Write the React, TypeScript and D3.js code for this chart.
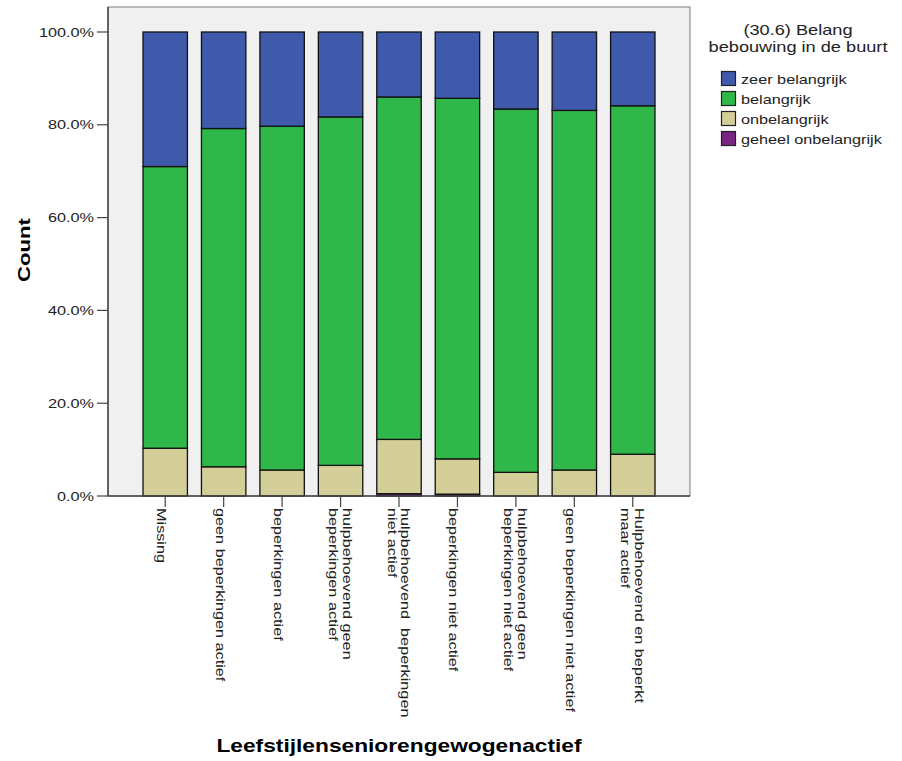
import React from "react";
import * as d3 from "d3";

const categories: string[][] = [
  ["Missing"],
  ["geen beperkingen actief"],
  ["beperkingen actief"],
  ["hulpbehoevend geen", "beperkingen actief"],
  ["hulpbehoevend  beperkingen", "niet actief"],
  ["beperkingen niet actief"],
  ["hulpbehoevend geen", "beperkingen niet actief"],
  ["geen beperkingen niet actief"],
  ["Hulpbehoevend en beperkt", "maar actief"],
];

const seriesNames = ["geheel onbelangrijk", "onbelangrijk", "belangrijk", "zeer belangrijk"];
const seriesColors = ["#7b2582", "#d4ce98", "#2fb74a", "#3f59ab"];

const geheelOnbelangrijk = [0, 0, 0, 0, 0.5, 0.4, 0, 0, 0];
const onbelangrijk = [10.3, 6.3, 5.6, 6.6, 11.7, 7.6, 5.1, 5.6, 9.0];
const belangrijk = [60.7, 72.9, 74.1, 75.1, 73.8, 77.7, 78.3, 77.5, 75.1];
const zeerBelangrijk = [29.0, 20.8, 20.3, 18.3, 14.0, 14.3, 16.6, 16.9, 15.9];

const yTicks = [0, 20, 40, 60, 80, 100];

const legendTitle = ["(30.6) Belang", "bebouwing in de buurt"];
const legendOrder = ["zeer belangrijk", "belangrijk", "onbelangrijk", "geheel onbelangrijk"];
const xTitle = "Leefstijlenseniorengewogenactief";
const yTitle = "Count";

const W = 902;
const H = 761;
const FRAME = { left: 108, right: 690, top: 7, bottom: 496 };
const SX = 1.3;
const FS = 12.5;
const FONT = "'Liberation Sans', Arial, sans-serif";

export default function App() {
  const rows = categories.map((c, i) => ({
    key: String(i),
    "geheel onbelangrijk": geheelOnbelangrijk[i],
    onbelangrijk: onbelangrijk[i],
    belangrijk: belangrijk[i],
    "zeer belangrijk": zeerBelangrijk[i],
  }));
  const stacked = d3.stack<any>().keys(seriesNames)(rows);

  const x = d3
    .scaleBand<string>()
    .domain(rows.map((r) => r.key))
    .range([FRAME.left + 28, FRAME.right - 28])
    .paddingInner(0.24)
    .paddingOuter(0.12);
  const y = d3.scaleLinear().domain([0, 100]).range([496, 32]);
  const fmt = (v: number) => d3.format(".1f")(v) + "%";
  const color = d3.scaleOrdinal<string, string>().domain(seriesNames).range(seriesColors);

  return (
    <svg width={W} height={H} style={{ display: "block", position: "absolute", left: 0, top: 0 }} fontFamily={FONT}>
      <rect x={0} y={0} width={W} height={H} fill="#ffffff" />
      <rect
        x={FRAME.left}
        y={FRAME.top}
        width={FRAME.right - FRAME.left}
        height={FRAME.bottom - FRAME.top}
        fill="#f0f0f0"
        stroke="#7a7a7a"
        strokeWidth={1}
      />
      {stacked.map((s) => (
        <g key={s.key}>
          {s.map((d, i) => {
            const h = y(d[0]) - y(d[1]);
            if (h <= 0) return null;
            return (
              <rect
                key={i}
                x={x(String(i))!}
                y={y(d[1])}
                width={x.bandwidth()}
                height={h}
                fill={color(s.key)}
                stroke="#111"
                strokeWidth={1.3}
              />
            );
          })}
        </g>
      ))}
      <line x1={FRAME.left} x2={FRAME.left} y1={FRAME.top} y2={FRAME.bottom} stroke="#444" strokeWidth={1.5} />
      <line x1={FRAME.left} x2={FRAME.right} y1={FRAME.bottom} y2={FRAME.bottom} stroke="#444" strokeWidth={1.5} />
      {yTicks.map((t) => (
        <g key={t}>
          <line x1={97} x2={FRAME.left} y1={y(t)} y2={y(t)} stroke="#444" strokeWidth={1.2} />
          <text
            transform={`translate(94,${y(t) + 4.5}) scale(${SX},1)`}
            textAnchor="end"
            fontSize={FS}
            fill="#222"
          >
            {fmt(t)}
          </text>
        </g>
      ))}
      {categories.map((lines, i) => {
        const cx = x(String(i))! + x.bandwidth() / 2;
        const n = lines.length;
        const v0 = n === 1 ? 8 : -2;
        return (
          <g key={i}>
            <line x1={cx} x2={cx} y1={FRAME.bottom} y2={507} stroke="#444" strokeWidth={1.2} />
            <g transform={`translate(${cx},508) rotate(90)`}>
              {lines.map((l, j) => (
                <text
                  key={j}
                  transform={`translate(0,${v0 + j * 13.5}) scale(${SX},1)`}
                  fontSize={FS}
                  fill="#222"
                  style={{ whiteSpace: "pre" }}
                >
                  {l}
                </text>
              ))}
            </g>
          </g>
        );
      })}
      <text
        transform={`translate(30,250) rotate(-90) scale(${SX},1)`}
        textAnchor="middle"
        fontSize={17}
        fontWeight="bold"
        fill="#000"
      >
        {yTitle}
      </text>
      <text
        transform={`translate(${(FRAME.left + FRAME.right) / 2},752) scale(${SX},1)`}
        textAnchor="middle"
        fontSize={17.5}
        fontWeight="bold"
        fill="#000"
      >
        {xTitle}
      </text>
      {legendTitle.map((t, i) => (
        <text
          key={t}
          transform={`translate(798,${35 + i * 17}) scale(${SX},1)`}
          textAnchor="middle"
          fontSize={14}
          fill="#222"
        >
          {t}
        </text>
      ))}
      {legendOrder.map((k, i) => (
        <g key={k} transform={`translate(721,${71 + i * 20})`}>
          <rect x={0.5} y={0.5} width={14} height={14} fill={color(k)} stroke="#222" strokeWidth={1.2} />
          <text transform={`translate(20,12.5) scale(${SX},1)`} fontSize={FS} fill="#222">
            {k}
          </text>
        </g>
      ))}
    </svg>
  );
}
